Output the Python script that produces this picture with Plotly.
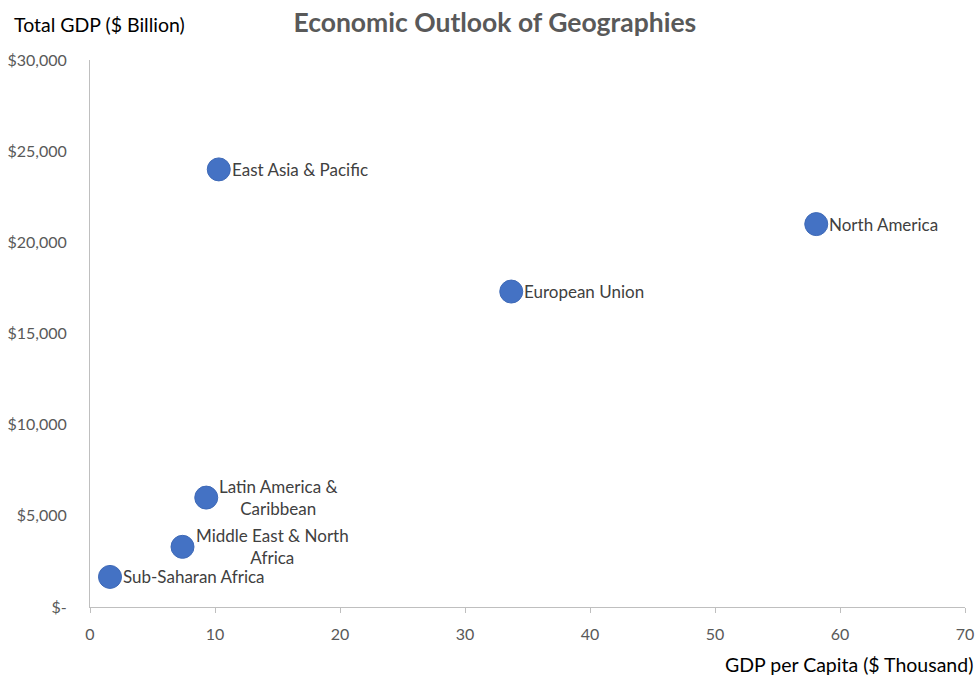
import plotly.graph_objects as go

regions = ["East Asia & Pacific", "North America", "European Union",
           "Latin America &<br>Caribbean", "Middle East & North<br>Africa", "Sub-Saharan Africa"]
gdp_per_capita = [10.3, 58.1, 33.7, 9.3, 7.4, 1.6]
total_gdp = [24000, 21000, 17300, 6000, 3300, 1650]

x_ticks = [0, 10, 20, 30, 40, 50, 60, 70]
y_ticks = [0, 5000, 10000, 15000, 20000, 25000, 30000]
y_tick_labels = ["$-", "$5,000", "$10,000", "$15,000", "$20,000", "$25,000", "$30,000"]

FONT = "Lato, Open Sans, sans-serif"
GREY = "#595959"

fig = go.Figure()
fig.add_trace(go.Scatter(
    x=gdp_per_capita, y=total_gdp, mode="markers",
    marker=dict(size=23, color="#4472C4", line=dict(color="#3F6AB7", width=1)),
    hoverinfo="skip", showlegend=False,
))

for name, xv, yv in zip(regions, gdp_per_capita, total_gdp):
    fig.add_annotation(x=xv, y=yv, text=name, showarrow=False,
                       xanchor="left", yanchor="middle", xshift=11, align="center",
                       font=dict(family=FONT, size=17, color="#404040"))

fig.update_layout(
    width=978, height=678,
    margin=dict(l=90, r=13, t=60, b=71),
    paper_bgcolor="white", plot_bgcolor="white",
    font=dict(family=FONT, color=GREY),
    title=dict(text="<b>Economic Outlook of Geographies</b>", x=0.506, xanchor="center",
               y=0.967, yanchor="middle", font=dict(family=FONT, size=26.5, color=GREY)),
    xaxis=dict(range=[0, 70], tickvals=x_ticks, showgrid=False, zeroline=False,
               showline=True, linecolor="#BFBFBF", linewidth=1, automargin=False,
               ticks="outside", ticklen=5, tickcolor="#BFBFBF", ticklabelstandoff=8,
               tickfont=dict(family=FONT, size=16, color=GREY)),
    yaxis=dict(range=[0, 30000], tickvals=y_ticks, ticktext=y_tick_labels, showgrid=False,
               zeroline=False, showline=True, linecolor="#BFBFBF", linewidth=1,
               ticks="", ticklabelstandoff=19, automargin=False,
               tickfont=dict(family=FONT, size=16, color=GREY)),
)

fig.add_annotation(text="Total GDP ($ Billion)", xref="paper", yref="paper",
                   x=-0.0891, y=1.064, xanchor="left", yanchor="middle", showarrow=False,
                   font=dict(family=FONT, size=19.5, color="#000000"))
fig.add_annotation(text="GDP per Capita ($ Thousand)", xref="paper", yref="paper",
                   x=1.0114, y=-0.106, xanchor="right", yanchor="middle", showarrow=False,
                   font=dict(family=FONT, size=19.5, color="#000000"))

fig.write_html("out.html", config={"displayModeBar": False},
               post_script="document.body.style.margin='0';")
